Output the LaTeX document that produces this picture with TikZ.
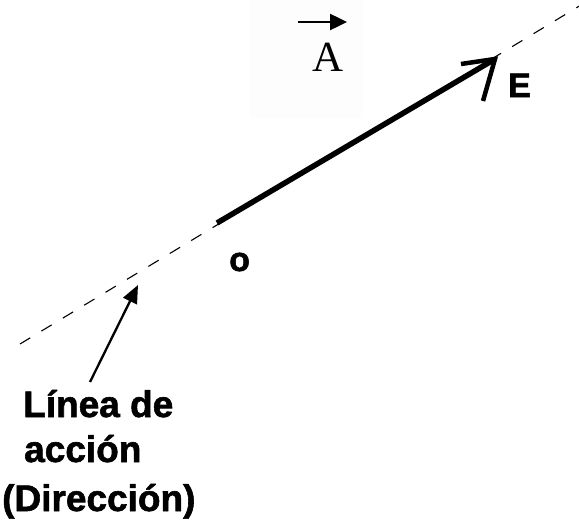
\documentclass[tikz,border=0pt]{standalone}
\usepackage{fontspec}
\newfontfamily\arialb{Liberation Sans}[BoldFeatures={FakeBold=1.6}]
\newfontfamily\timesf{Liberation Serif}
\usetikzlibrary{arrows.meta,calc}
\tikzset{
  lbl/.style={inner sep=0pt, anchor=base west, font=\arialb\bfseries\fontsize{34}{40}\selectfont},
  bottomlbl/.style={inner sep=0pt, anchor=base west, font=\arialb\bfseries\fontsize{37}{44}\selectfont},
  actionline/.style={line width=1.1pt, dash pattern=on 12pt off 13pt},
  vecshaft/.style={line width=5.5pt},
  vechead/.style={line width=4.5pt, line join=miter, line cap=butt},
  pointer/.style={line width=2.3pt, -{Triangle[length=18pt,width=15pt]}},
  overarrow/.style={line width=2.5pt, -{Triangle[length=17pt,width=16pt]}}
}
\begin{document}
\begin{tikzpicture}[x=1pt,y=-1pt]
\useasboundingbox (0,0) rectangle (579,522);
% faint backdrop behind the label
\fill[black!0.6] (250,0) rectangle (363,118);
% line of action
\coordinate (l1) at (20,344);
\coordinate (l2) at (581,5);
\draw[actionline] (l1) -- (l2);
% vector
\coordinate (O) at (217,223);
\coordinate (tip) at (495,59);
\coordinate (b1) at (461,64);
\coordinate (b2) at (483,101);
\draw[vecshaft] (O) -- ($(tip)!3pt!(O)$);
\draw[vechead] (b1) -- (tip) -- (b2);
% labels
\node[lbl] (E) at (508,97) {E};
\node[lbl] (o) at (229,271) {o};
% vector name
\node[inner sep=0pt, anchor=base west, font=\timesf\fontsize{43}{50}\selectfont] (A) at (312,71) {A};
\coordinate (a1) at (298,22);
\coordinate (a2) at (347,22);
\draw[overarrow] (a1) -- (a2);
% bottom text
\node[bottomlbl] (t1) at (23,417) {Línea de};
\node[bottomlbl] (t2) at (24,462) {acción};
\node[bottomlbl] (t3) at (2,511) {(Dirección)};
\coordinate (p1) at (90,382);
\coordinate (p2) at (138,285);
\draw[pointer] (p1) -- (p2);
\end{tikzpicture}
\end{document}
